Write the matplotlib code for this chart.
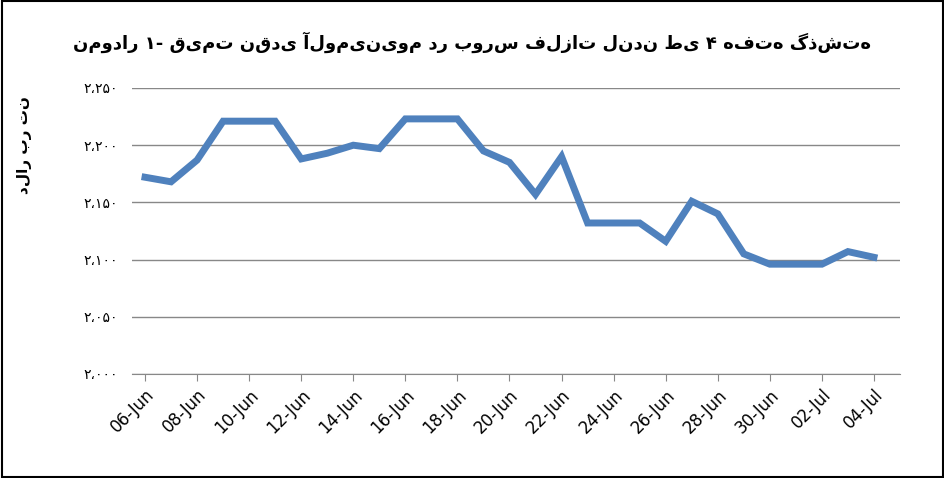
import matplotlib
matplotlib.use("Agg")
import matplotlib.pyplot as plt
import pandas as pd
from matplotlib.patches import Rectangle

dates = pd.date_range("2023-06-06", "2023-07-04", freq="D")
values = [2172, 2168, 2187, 2221, 2221, 2221, 2188, 2193, 2200, 2197, 2223, 2223, 2223,
          2195, 2185, 2157, 2190, 2132, 2132, 2132, 2116, 2151, 2140, 2105, 2096, 2096,
          2096, 2107, 2102]
yticks = [2000, 2050, 2100, 2150, 2200, 2250]
ytick_labels = ["۲،۰۰۰", "۲،۰۵۰", "۲،۱۰۰", "۲،۱۵۰", "۲،۲۰۰", "۲،۲۵۰"]
title = "نمودار ۱- قیمت نقدی آلومینیوم در بورس فلزات لندن طی ۴ هفته گذشته"
ylabel = "دلار بر تن"

fig = plt.figure(figsize=(9.45, 4.78), dpi=100)
ax = fig.add_axes([132/945, 1-374/478, (900-132)/945, (374-88)/478])
ax.plot(dates, values, color="#4F81BD", lw=5, solid_joinstyle="miter")
ax.set_ylim(2000, 2250)
ax.set_xlim(dates[0] - pd.Timedelta(days=0.5), dates[-1] + pd.Timedelta(days=1))
ax.set_yticks(yticks)
ax.set_yticklabels(ytick_labels, fontsize=10)
ax.yaxis.grid(True, color="#888888", lw=1)
ax.set_axisbelow(True)
for s in ["top", "right", "left"]:
    ax.spines[s].set_visible(False)
ax.spines["bottom"].set_color("#888888")
ax.tick_params(axis="y", length=0, pad=10)
ax.tick_params(axis="x", length=5, color="#888888", labelsize=12)
ticks = list(dates[::2])
ax.set_xticks(ticks)
ax.set_xticklabels([d.strftime("%d-%b") for d in ticks], rotation=45, ha="right", rotation_mode="anchor")
ax.set_ylabel(ylabel, fontsize=11, fontweight="bold")
ax.yaxis.set_label_coords(-0.13, 0.8)
fig.text(0.5, 1-42/478, title, ha="center", va="center", fontsize=13, fontweight="bold")
fig.patches.append(Rectangle((0.002, 0.003), 0.996, 0.994, transform=fig.transFigure,
                             fill=False, ec="black", lw=1.5))
fig.savefig("out.png", dpi=100)
